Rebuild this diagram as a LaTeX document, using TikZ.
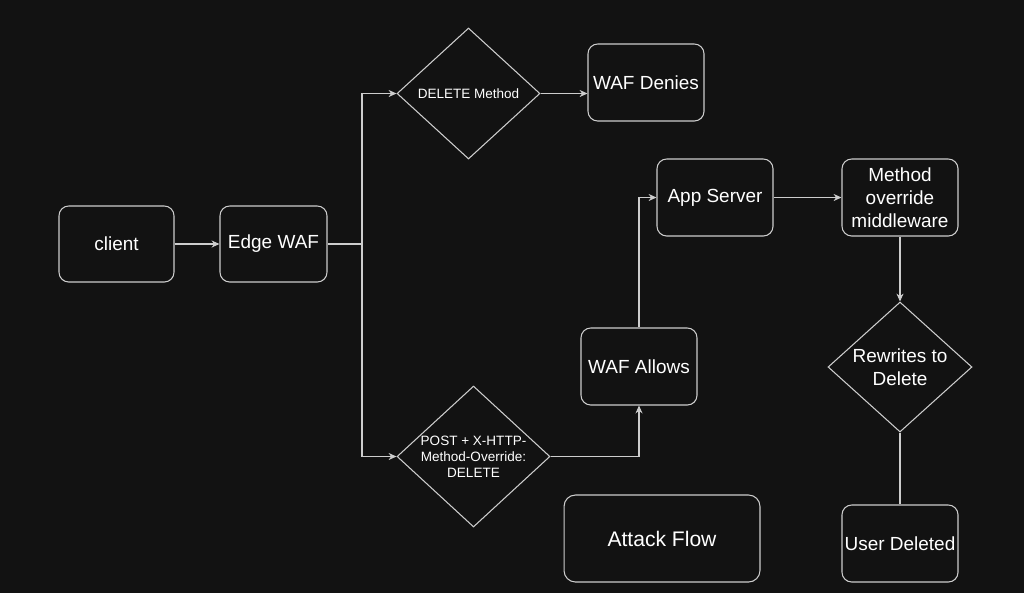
\documentclass[tikz,border=0pt]{standalone}
\usepackage{fontspec}
\setmainfont{Liberation Sans}
\usetikzlibrary{positioning, calc, shapes.geometric, arrows.meta}
\definecolor{bgdark}{RGB}{18,18,18}
\definecolor{edgegray}{RGB}{205,205,205}
\tikzset{
  box/.style={draw=edgegray, rounded corners=5.5pt, line width=0.6pt, text=white, align=center,
    minimum width=2.32cm, minimum height=1.54cm, inner sep=1pt, font=\fontsize{10.8pt}{13pt}\selectfont},
  decision/.style={draw=edgegray, diamond, line width=0.6pt, inner sep=0pt},
  lbl/.style={text=white, align=center, font=\fontsize{10.8pt}{13pt}\selectfont},
  smalllbl/.style={text=white, align=center, font=\fontsize{7.7pt}{9pt}\selectfont},
  flow/.style={draw=edgegray, line width=0.6pt, -{Stealth[length=4.5pt, width=4pt]}},
  link/.style={draw=edgegray, line width=0.6pt},
}
\begin{document}
\begin{tikzpicture}[x=0.02cm, y=-0.02cm]
        \fill[bgdark] (0,0) rectangle (1024,593);
        \useasboundingbox (0,0) rectangle (1024,593);
        \node[box, minimum width=2.3cm, minimum height=1.52cm] (client) at (116.5,244) {client};
        \node[box, minimum width=2.14cm, minimum height=1.52cm] (edge) at (273.5,244) {Edge WAF};
        \node[decision, minimum width=2.86cm, minimum height=2.62cm,
          label={[smalllbl]center:DELETE Method}] (del) at (468.5,93.5) {};
        \node[box] (deny) at (646,82.5) {WAF Denies};
        \node[decision, minimum width=3.06cm, minimum height=2.82cm,
          label={[smalllbl]center:{POST + X-HTTP-\\Method-Override:\\DELETE}}] (post) at (473.5,456.5) {};
        \node[box] (allow) at (639,366.5) {WAF Allows};
        \node[box] (app) at (715,197.5) {App Server};
        \node[box] (mw) at (900,197.5) {Method\\override\\middleware};
        \node[decision, minimum width=2.88cm, minimum height=2.6cm,
          label={[lbl]center:{Rewrites to\\Delete}}] (rw) at (900,367) {};
        \node[box] (deleted) at (900,543.5) {User Deleted};
        \node[box, rounded corners=6.5pt, minimum width=3.92cm, minimum height=1.74cm,
          font=\fontsize{12pt}{14pt}\selectfont] (title) at (662,538.5) {Attack Flow};

        \coordinate (split) at (362,244);
        \draw[flow] (client) -- (edge);
        \draw[link] (edge) -- (split);
        \draw[flow] (split) |- (del.west);
        \draw[flow] (split) |- (post.west);
        \draw[flow] (del.east) -- (del.east -| deny.west);
        \draw[flow] (post.east) -| (allow.south);
        \draw[flow] (allow.north) |- (app.west);
        \draw[flow] (app) -- (mw);
        \draw[flow] (mw) -- (rw.north);
        \draw[link] (rw.south) -- (deleted);
      \end{tikzpicture}
\end{document}
